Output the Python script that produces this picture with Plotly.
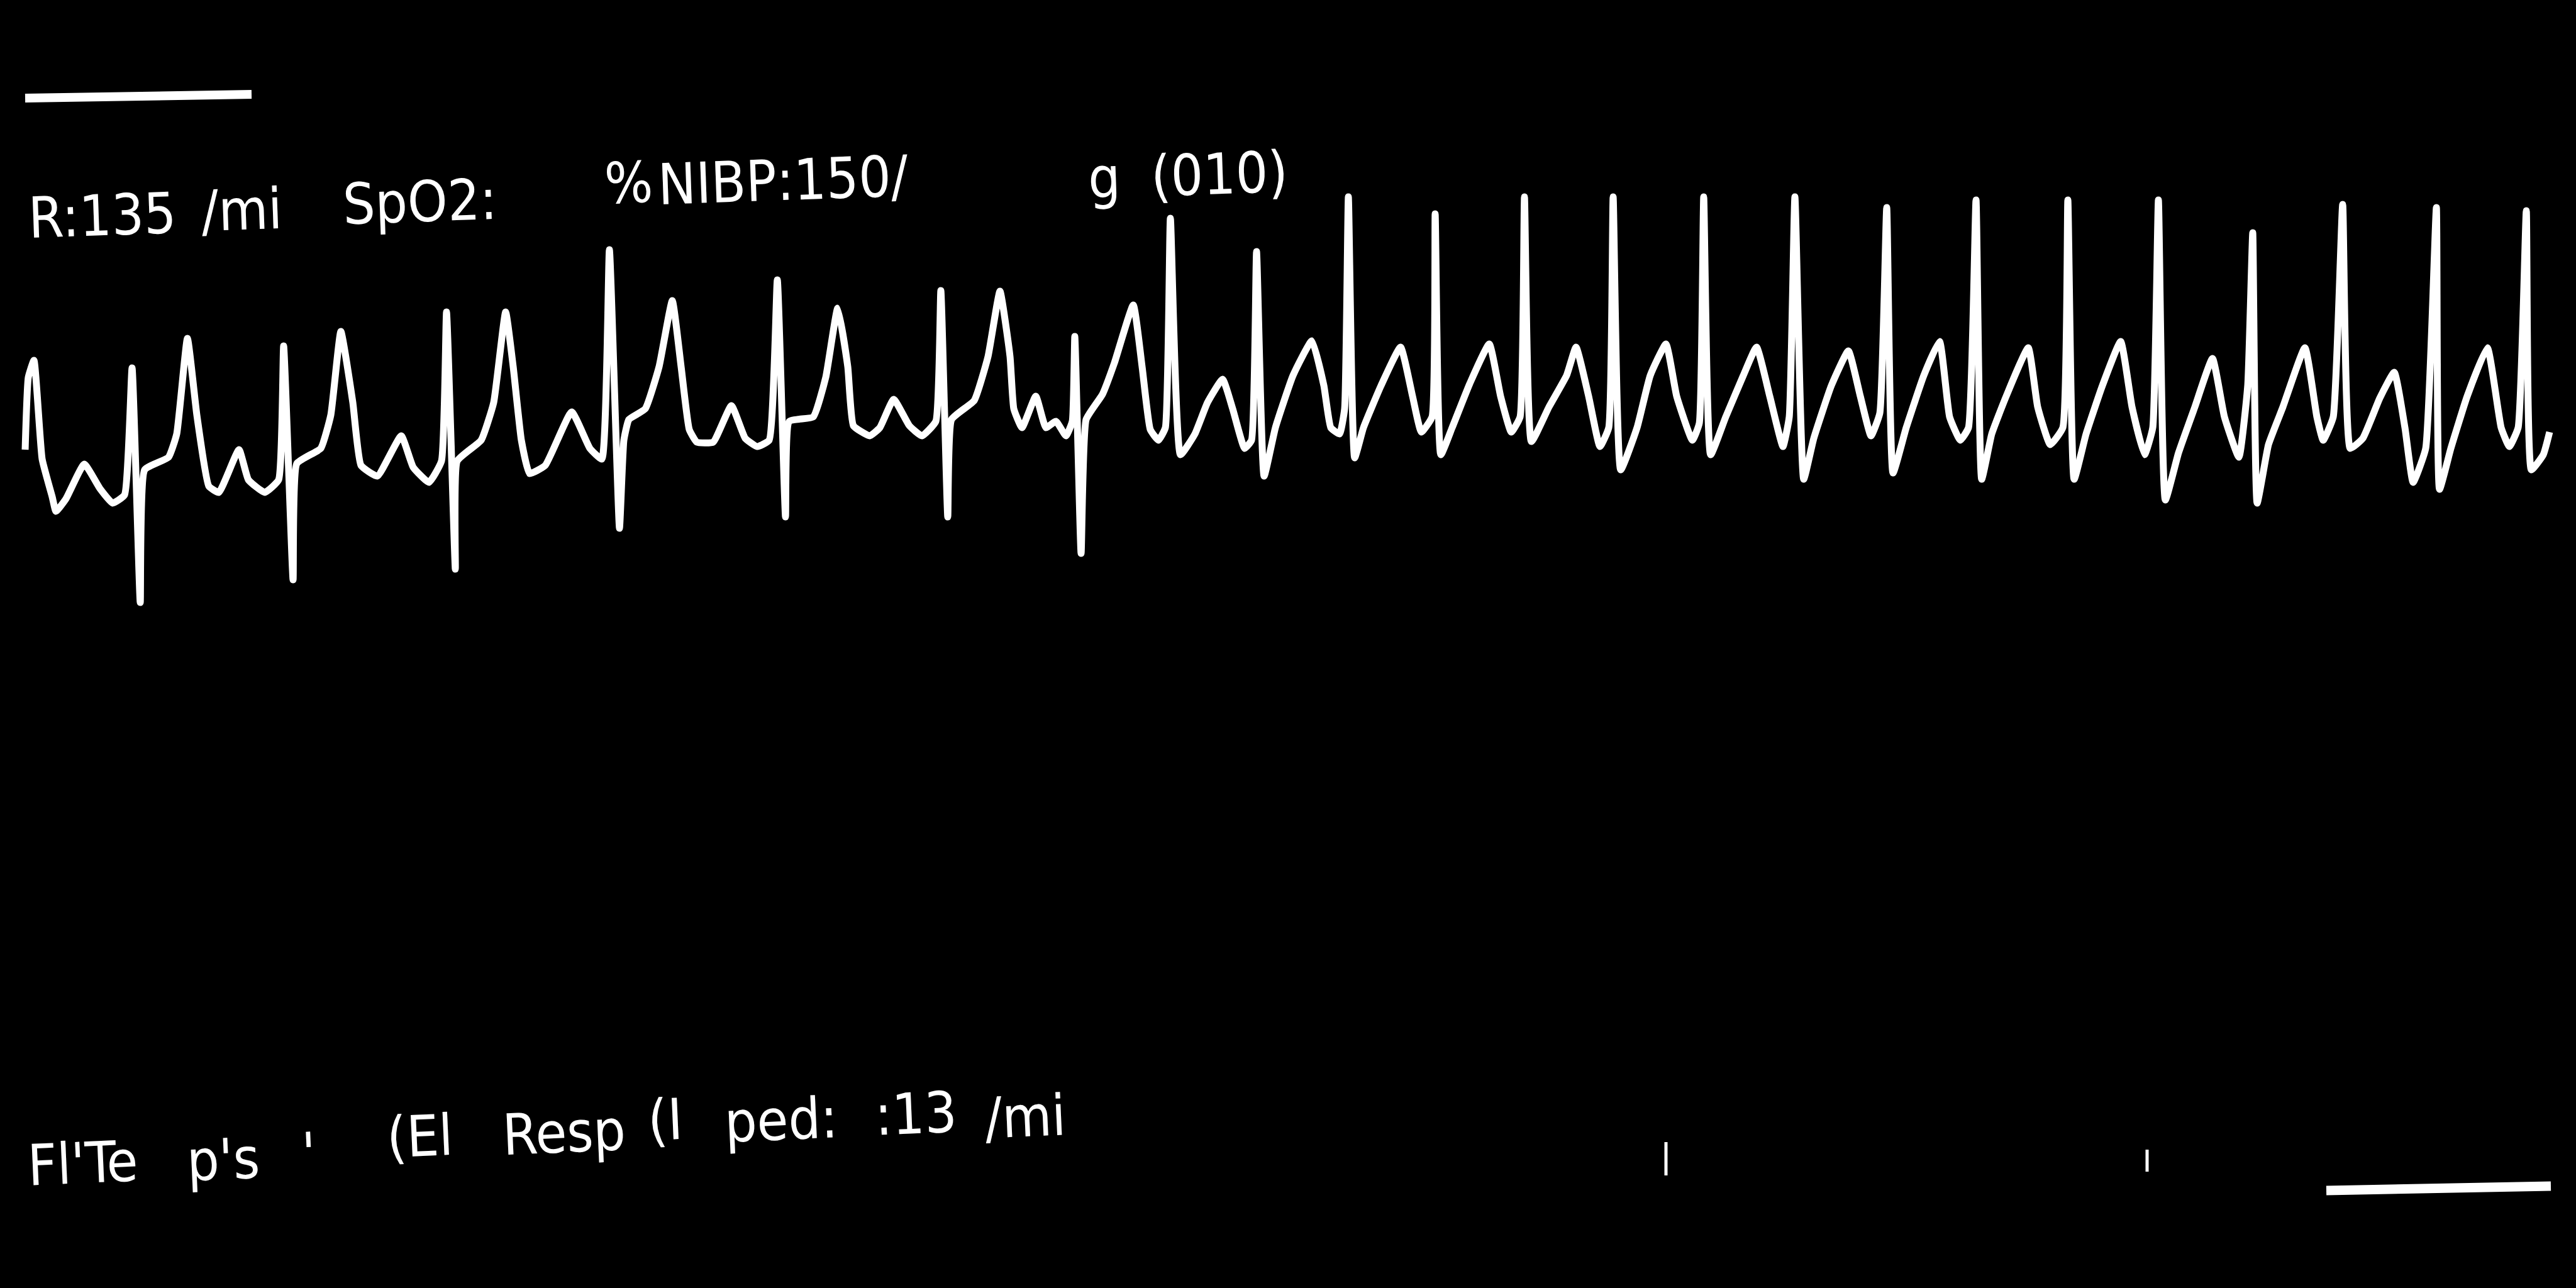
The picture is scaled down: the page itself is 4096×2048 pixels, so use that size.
import subprocess
import plotly.graph_objects as go

# ---------------- data (pixel units of the 4096x2048 frame) ----------------
ecg_x = [40, 45, 54, 67, 83, 89, 105, 134, 159, 179, 198, 210, 223, 230, 268, 281, 298, 313, 332, 348,
         380, 395, 421, 443, 451, 466, 472, 510, 526, 542, 561, 574, 600, 638, 657, 682, 702, 710, 724,
         727, 765, 785, 804, 816, 829, 842, 867, 909, 938, 957, 969, 985, 992, 1000, 1026, 1048, 1069,
         1083, 1096, 1108, 1134, 1163, 1185, 1204, 1223, 1236, 1249, 1255, 1293, 1313, 1332, 1348, 1357,
         1383, 1399, 1421, 1446, 1466, 1488, 1496, 1507, 1513, 1549, 1571, 1590, 1606, 1612, 1625, 1647,
         1663, 1679, 1695, 1705, 1709, 1719, 1727, 1753, 1772, 1802, 1816, 1829, 1842, 1853, 1861, 1877,
         1900, 1920, 1944, 1960, 1979, 1990, 1998, 2010, 2028, 2056, 2086, 2105, 2116, 2130, 2138, 2144,
         2154, 2168, 2196, 2227, 2246, 2260, 2277, 2282, 2291, 2309, 2337, 2368, 2386, 2403, 2417, 2424,
         2435, 2463, 2491, 2506, 2526, 2544, 2558, 2565, 2577, 2603, 2624, 2649, 2666, 2691, 2702, 2709,
         2720, 2744, 2772, 2793, 2814, 2835, 2845, 2854, 2868, 2884, 2912, 2939, 2958, 2975, 2989, 3000,
         3010, 3031, 3059, 3084, 3100, 3117, 3130, 3142, 3151, 3167, 3190, 3225, 3240, 3260, 3280, 3288,
         3298, 3317, 3343, 3372, 3390, 3410, 3423, 3432, 3443, 3464, 3490, 3518, 3537, 3560, 3574, 3582,
         3589, 3607, 3630, 3665, 3684, 3694, 3710, 3725, 3737, 3757, 3784, 3807, 3824, 3837, 3857, 3874,
         3879, 3897, 3923, 3955, 3977, 3990, 4004, 4017, 4025, 4044, 4054]
ecg_y = [715, 600, 573, 730, 790, 813, 793, 738, 777, 800, 787, 585, 958, 747, 727, 690, 538, 660, 773, 783,
         715, 763, 783, 763, 550, 922, 737, 713, 660, 527, 640, 740, 757, 693, 743, 767, 733, 496, 905,
         733, 700, 640, 496, 583, 700, 753, 740, 655, 713, 730, 397, 840, 700, 667, 650, 583, 478,
         583, 683, 703, 703, 645, 697, 710, 700, 445, 822, 670, 663, 600, 490, 583, 677,
         693, 680, 635, 677, 693, 670, 462, 822, 667, 637, 567, 463, 567, 650, 680, 630,
         680, 670, 693, 670, 535, 880, 667, 627, 577, 485, 583, 683, 700, 680, 347, 723,
         690, 640, 603, 650, 713, 700, 400, 757, 680, 597, 542, 613, 680, 690, 650, 313,
         728, 680, 613, 552, 630, 687, 663, 340, 723, 680, 610, 547, 630, 687, 663, 313,
         702, 647, 597, 552, 630, 710, 680, 313, 747, 680, 597, 547, 630, 700, 673, 313,
         723, 663, 597, 552, 630, 710, 663, 313, 762, 697, 613, 558, 630, 693, 657, 330,
         752, 680, 597, 543, 663, 700, 680, 318, 762, 690, 630, 553, 647, 707, 680, 318,
         762, 690, 613, 543, 647, 723, 680, 318, 795, 720, 647, 570, 663, 727, 613, 370,
         800, 707, 647, 553, 663, 700, 663, 325, 713, 697, 633, 592, 680, 767, 713, 330,
         778, 713, 630, 553, 680, 710, 680, 335, 747, 723, 687]

# calibration bars and small marks
bar_top_x = [40, 400]
bar_top_y = [156, 150]
bar_bottom_x = [3699, 4056]
bar_bottom_y = [1893, 1886]
mark_x = [2649, 2649, None, 3414, 3414]
mark_y = [1816, 1869, None, 1828, 1863]

# text labels
top_labels = ["R:135", "/mi", "SpO2:", "%", "NIBP:150/", "g", "(010)"]
top_label_x = [41, 316, 541, 957, 1042, 1726, 1826]
top_label_y = [342, 333, 320, 290, 286, 282, 276]
bottom_labels = ["Fl'Te", "p's", "'", "(El", "Resp", "(I", "ped:", ":13", "/mi"]
bottom_label_x = [40, 293, 476, 611, 795, 1026, 1148, 1387, 1562]
bottom_label_y = [1849, 1843, 1833, 1806, 1800, 1780, 1780, 1770, 1775]

# ---------------- font choice ----------------
try:
    fams = subprocess.run(["fc-list", ":", "family"], capture_output=True, text=True).stdout
except Exception:
    fams = ""
if "Liberation Sans Narrow" in fams:
    font_family, font_size = "Liberation Sans Narrow", 104
elif "DejaVu Sans Condensed" in fams:
    font_family, font_size = "DejaVu Sans Condensed", 90
else:
    font_family, font_size = "Liberation Sans", 88

# ---------------- figure ----------------
fig = go.Figure()
fig.add_trace(go.Scatter(x=ecg_x, y=ecg_y, mode="lines",
                         line=dict(color="white", width=11, shape="spline", smoothing=0.4),
                         hoverinfo="skip"))
fig.add_trace(go.Scatter(x=bar_top_x, y=bar_top_y, mode="lines",
                         line=dict(color="white", width=14), hoverinfo="skip"))
fig.add_trace(go.Scatter(x=bar_bottom_x, y=bar_bottom_y, mode="lines",
                         line=dict(color="white", width=15), hoverinfo="skip"))
fig.add_trace(go.Scatter(x=mark_x, y=mark_y, mode="lines",
                         line=dict(color="white", width=5), hoverinfo="skip"))

for t, x, y in zip(top_labels, top_label_x, top_label_y):
    fig.add_annotation(x=x, y=y, text=t, showarrow=False, xanchor="left", yanchor="middle",
                       textangle=-2, font=dict(family=font_family, size=font_size, color="white"))
for t, x, y in zip(bottom_labels, bottom_label_x, bottom_label_y):
    fig.add_annotation(x=x, y=y, text=t, showarrow=False, xanchor="left", yanchor="middle",
                       textangle=-2.5, font=dict(family=font_family, size=font_size, color="white"))

fig.update_layout(
    width=4096, height=2048,
    margin=dict(l=0, r=0, t=0, b=0),
    paper_bgcolor="black", plot_bgcolor="black",
    showlegend=False,
    xaxis=dict(range=[0, 4096], visible=False, showgrid=False, zeroline=False, fixedrange=True),
    yaxis=dict(range=[2048, 0], visible=False, showgrid=False, zeroline=False, fixedrange=True),
)

fig.write_html("out.html", config={"displayModeBar": False})
